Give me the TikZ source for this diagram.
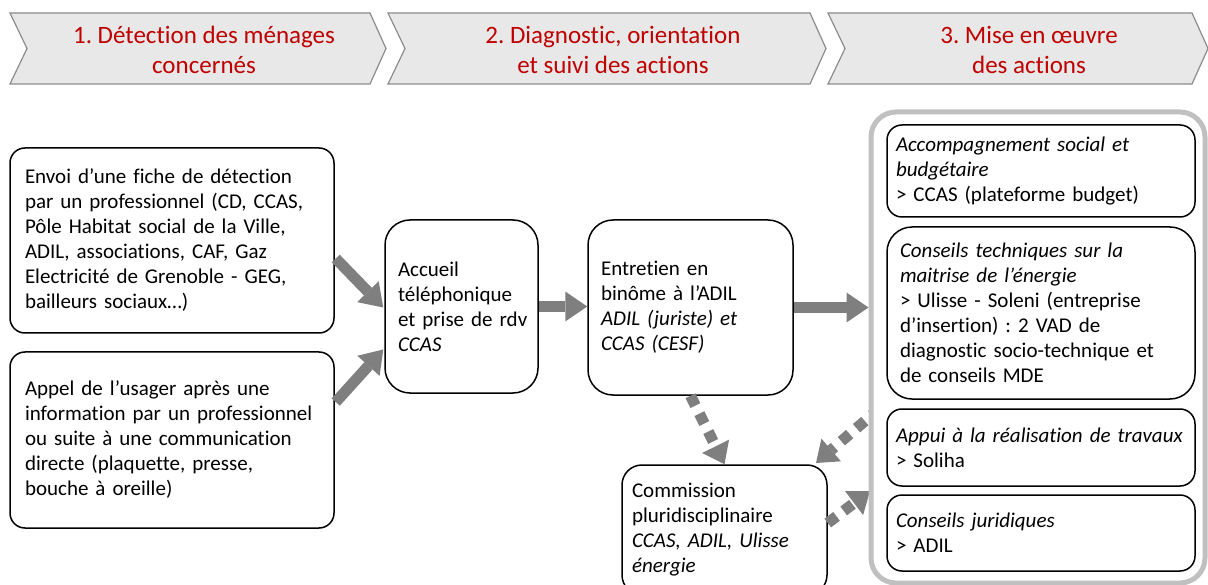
\documentclass[tikz,border=0pt]{standalone}
\usepackage{fontspec}
\setmainfont{Carlito}[Ligatures=NoCommon]
\frenchspacing
\usetikzlibrary{arrows.meta,calc}
\definecolor{chevfill}{HTML}{E8E8E8}
\definecolor{chevline}{HTML}{8C8C8C}
\definecolor{headred}{HTML}{C00000}
\definecolor{arrowgray}{HTML}{7F7F7F}
\definecolor{framegray}{HTML}{C0C0C0}

\begin{document}
\begin{tikzpicture}[x=1pt,y=-1pt,
  chevron/.style={fill=chevfill,draw=chevline,line width=1.2pt,line join=miter},
  headtext/.style={text=headred,align=center,inner sep=0pt,font=\fontsize{25}{30}\selectfont},
  card/.style={draw=black,line width=1.5pt,fill=white,align=left,inner ysep=0pt,
               font=\fontsize{21}{25}\selectfont},
  bigarrow/.style={draw=arrowgray,line width=11pt,
               -{Triangle[length=22pt,width=30pt,line width=0pt]}},
  dotarrow/.style={draw=arrowgray,line width=11pt,dash pattern=on 11pt off 9pt,
               -{Triangle[length=20pt,width=30pt,line width=0pt]}}
]
\useasboundingbox (0,0) rectangle (1208,585);
\clip (0,0) rectangle (1208,585);

% phase banner
\draw[chevron] (10,13) -- (370,13) -- (386,48.5) -- (370,84) -- (10,84) -- (27,48.5) -- cycle;
\draw[chevron] (388,13) -- (810,13) -- (826,48.5) -- (810,84) -- (388,84) -- (405,48.5) -- cycle;
\draw[chevron] (828,13) -- (1192,13) -- (1208,48.5) -- (1192,84) -- (828,84) -- (845,48.5) -- cycle;
\node[headtext] (h1) at (204,50) {1. Détection des ménages\\concernés};
\node[headtext] (h2) at (613,50) {2. Diagnostic, orientation\\et suivi des actions};
\node[headtext] (h3) at (1029,50) {3. Mise en œuvre\\des actions};

% detection
\node[card,rounded corners=15pt,minimum width=324pt,minimum height=185pt,
      inner xsep=15pt,text width=294pt] (A) at (172,240.5)
  {Envoi d’une fiche de détection\\
   par un professionnel (CD, CCAS,\\
   Pôle Habitat social de la Ville,\\
   ADIL, associations, CAF, Gaz\\
   Electricité de Grenoble - GEG,\\
   bailleurs sociaux…)};
\node[card,rounded corners=15pt,minimum width=324pt,minimum height=176pt,
      inner xsep=15pt,text width=294pt] (B) at (172,440)
  {Appel de l’usager après une\\
   information par un professionnel\\
   ou suite à une communication\\
   directe (plaquette, presse,\\
   bouche à oreille)};

% diagnostic
\node[card,rounded corners=25pt,minimum width=153pt,minimum height=173pt,
      inner xsep=13pt,text width=127pt] (C) at (461.5,306.5)
  {Accueil\\téléphonique\\et~prise~de~rdv\\\textit{CCAS}};
\node[card,rounded corners=25pt,minimum width=205pt,minimum height=175pt,
      inner xsep=13pt,text width=179pt] (D) at (690.5,307.5)
  {Entretien en\\binôme à l’ADIL\\\textit{ADIL (juriste) et}\\\textit{CCAS (CESF)}};
\node[card,rounded corners=20pt,minimum width=205pt,minimum height=130pt,
      inner xsep=10pt,text width=185pt] (E) at (724.5,530)
  {Commission\\pluridisciplinaire\\\textit{CCAS, ADIL, Ulisse}\\\textit{énergie}};

% links with the commission
\coordinate (d2s) at (880,408);
\coordinate (d2e) at (816,463);
\coordinate (d3e) at (870,491);
\draw[dotarrow] (D.south) -- (E.north);
\draw[dotarrow] (d2s) -- (d2e);
\draw[dotarrow] ($(E.east)+(0,-7)$) -- (d3e);

% actions
\node[draw=framegray,line width=5pt,fill=white,rounded corners=25pt,
      minimum width=334pt,minimum height=471pt,inner sep=0pt] (G) at (1038,347.5) {};
\node[card,rounded corners=15pt,minimum width=308pt,minimum height=92pt,
      inner xsep=9pt,text width=290pt] (F1) at (1041,171)
  {\textit{Accompagnement social et}\\\textit{budgétaire}\\> CCAS (plateforme budget)};
\node[card,rounded corners=25pt,minimum width=308pt,minimum height=172pt,
      inner xsep=13pt,text width=282pt] (F2) at (1041,313)
  {\textit{Conseils techniques sur la}\\\textit{maitrise de l’énergie}\\
   > Ulisse - Soleni (entreprise\\d’insertion) : 2 VAD de\\
   diagnostic socio-technique et\\de conseils MDE};
\node[card,rounded corners=15pt,minimum width=308pt,minimum height=77pt,
      inner xsep=9pt,text width=290pt] (F3) at (1041,447.5)
  {\textit{Appui à la réalisation de travaux}\\> Soliha};
\node[card,rounded corners=15pt,minimum width=308pt,minimum height=76pt,
      inner xsep=9pt,text width=290pt] (F4) at (1041,533)
  {\textit{Conseils juridiques}\\> ADIL};

% main flow
\draw[bigarrow] ($(A.east)+(1,18)$) -- ($(C.west)+(-1,1)$);
\draw[bigarrow] ($(B.east)+(1,-38)$) -- ($(C.west)+(-1,43)$);
\draw[bigarrow] (C.east) -- (C.east -| D.west);
\draw[bigarrow] (D.east) -- (D.east -| G.west);
\end{tikzpicture}
\end{document}
